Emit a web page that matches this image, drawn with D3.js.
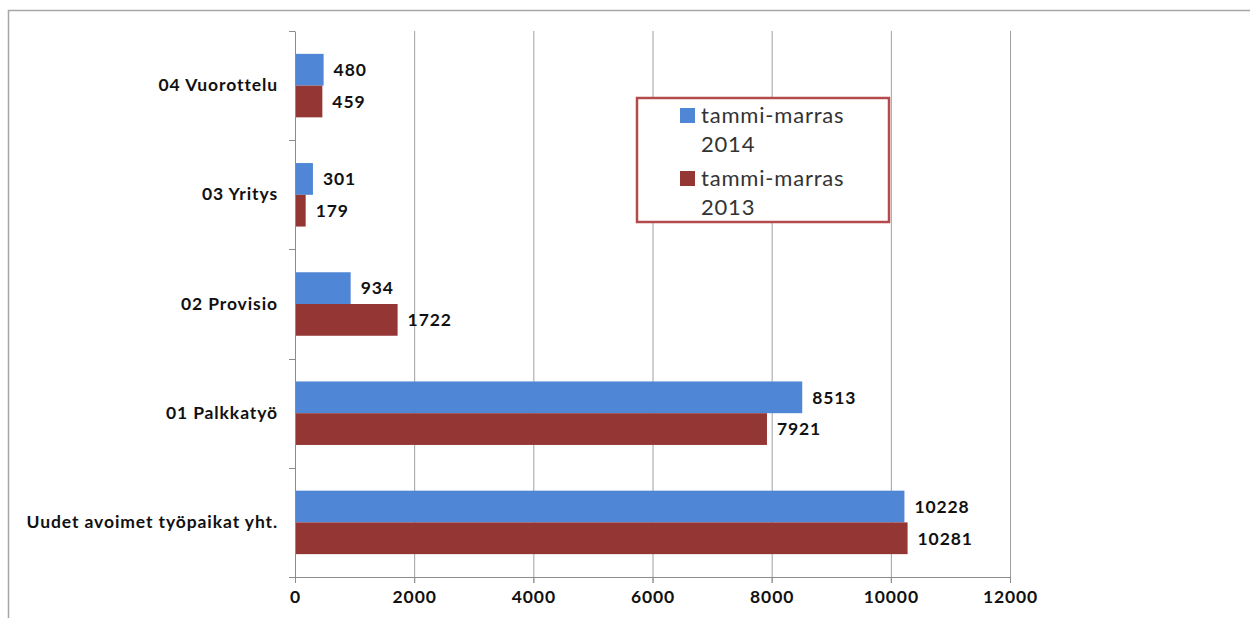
<!DOCTYPE html>
<html><head><meta charset="utf-8">
<script src="https://cdn.jsdelivr.net/npm/d3@7"></script>
<style>body{margin:0;background:#fff}svg{display:block}</style>
</head><body>
<svg id="c" width="1250" height="618"></svg>
<script>
const categories = ["Uudet avoimet työpaikat yht.", "01 Palkkatyö", "02 Provisio", "03 Yritys", "04 Vuorottelu"];
const series2014 = [10228, 8513, 934, 301, 480];
const series2013 = [10281, 7921, 1722, 179, 459];
const seriesNames = ["tammi-marras 2014", "tammi-marras 2013"];
const xTicks = [0, 2000, 4000, 6000, 8000, 10000, 12000];

const colors = ["#4F86D6", "#943634"];
const svg = d3.select("#c");
const font = "Lato, 'Open Sans', sans-serif";
const fs = 17.5, ls = 0.9;

// outer frame
svg.append("rect").attr("x", 8.5).attr("y", 10.5).attr("width", 1400).attr("height", 800)
  .attr("fill", "#fff").attr("stroke", "#a6a6a6").attr("stroke-width", 1.5);

const pLeft = 295, pRight = 1010, pTop = 31, pBottom = 577;
const x = d3.scaleLinear().domain([0, 12000]).range([pLeft, pRight]);
const y = d3.scaleBand().domain(categories.slice().reverse()).range([pTop, pBottom]);
const inner = d3.scaleBand().domain([0, 1]).range([0, y.bandwidth()]).paddingOuter(0.72).paddingInner(0);

// gridlines
svg.append("g").selectAll("line").data(xTicks.slice(1)).join("line")
  .attr("x1", d => x(d) + 0.5).attr("x2", d => x(d) + 0.5).attr("y1", pTop).attr("y2", pBottom + 6)
  .attr("stroke", "#a0a0a0").attr("stroke-width", 1);

// bars
const data = categories.map((c, i) => ({c, v: [series2014[i], series2013[i]]}));
const g = svg.append("g");
data.forEach(d => {
  d.v.forEach((v, k) => {
    g.append("rect").attr("x", x(0)).attr("y", y(d.c) + inner(k))
      .attr("width", x(v) - x(0)).attr("height", inner.bandwidth()).attr("fill", colors[k]);
    g.append("text").attr("x", x(v) + 10).attr("y", y(d.c) + inner(k) + inner.bandwidth() / 2)
      .attr("dy", "0.36em").attr("font-family", font).attr("font-weight", "bold")
      .attr("font-size", fs).attr("letter-spacing", ls).attr("fill", "#111").text(v);
  });
});

// x axis
const xa = svg.append("g").attr("transform", `translate(0,${pBottom})`)
  .call(d3.axisBottom(x).tickValues(xTicks).tickSize(6).tickSizeOuter(0).tickFormat(d => d));
xa.select(".domain").attr("stroke", "#8c8c8c");
xa.selectAll(".tick line").attr("stroke", "#8c8c8c");
xa.selectAll("text").attr("font-family", font).attr("font-weight", "bold").attr("font-size", fs)
  .attr("letter-spacing", ls).attr("fill", "#111").attr("dy", "0.95em");

// y axis
const ya = svg.append("g").attr("transform", `translate(${pLeft},0)`)
  .call(d3.axisLeft(y).tickSize(0).tickPadding(17));
ya.select(".domain").attr("stroke", "#8c8c8c");
ya.selectAll("text").attr("font-family", font).attr("font-weight", "bold").attr("font-size", fs)
  .attr("letter-spacing", ls).attr("fill", "#111");
// band boundary ticks
const bounds = categories.map(c => y(c)).concat([pBottom]);
svg.append("g").selectAll("line").data(bounds).join("line")
  .attr("x1", pLeft - 6).attr("x2", pLeft).attr("y1", d => Math.round(d) + 0.5).attr("y2", d => Math.round(d) + 0.5)
  .attr("stroke", "#8c8c8c");

// legend
const lg = svg.append("g");
lg.append("rect").attr("x", 637).attr("y", 98).attr("width", 252).attr("height", 124)
  .attr("fill", "#fff").attr("stroke", "#b24b49").attr("stroke-width", 2.5);
seriesNames.forEach((n, k) => {
  const yy = 108 + k * 63;
  lg.append("rect").attr("x", 680).attr("y", yy).attr("width", 15).attr("height", 15).attr("fill", colors[k]);
  const parts = [n.slice(0, n.lastIndexOf(" ")), n.slice(n.lastIndexOf(" ") + 1)];
  parts.forEach((p, j) => {
    lg.append("text").attr("x", 701).attr("y", yy + 15 + j * 29).attr("font-family", font)
      .attr("font-size", 22).attr("letter-spacing", 0.8).attr("fill", "#333").text(p);
  });
});
</script>
</body></html>
